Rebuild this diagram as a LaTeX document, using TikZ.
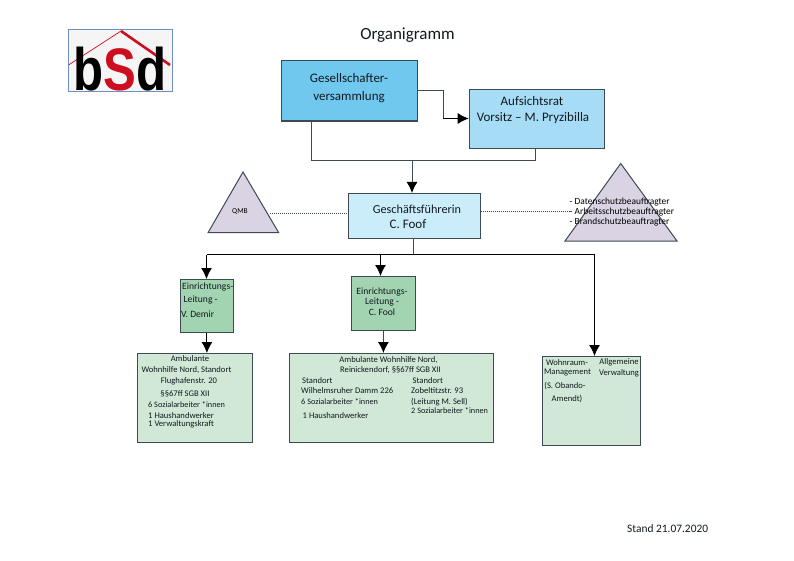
\documentclass[tikz,border=0pt]{standalone}
\usepackage{fontspec}
\setmainfont{Carlito}
\newfontfamily\logofont{Liberation Sans}
\usetikzlibrary{arrows.meta}
\definecolor{cGes}{HTML}{71C8EE}
\definecolor{cAuf}{HTML}{A6DCF5}
\definecolor{cGF}{HTML}{CBECF9}
\definecolor{cLei}{HTML}{A3D4B1}
\definecolor{cAmb}{HTML}{D2E8D6}
\definecolor{cTri}{HTML}{D9D3E3}
\definecolor{cEdge}{HTML}{3C4A52}
\definecolor{cInk}{HTML}{111A20}
\definecolor{cLogoRed}{HTML}{CC0E1E}
\definecolor{cLogoEdge}{HTML}{6F8FBF}
\tikzset{
  boxshape/.style={draw=cEdge,line width=1.1pt,inner sep=0pt,anchor=north west},
  trishape/.style={draw=cEdge,line width=1pt,fill=cTri,line join=miter},
  big/.style={font=\fontsize{13}{13}\selectfont,text=cInk,inner sep=0pt},
  mid/.style={font=\fontsize{9.6}{10}\selectfont,text=cInk,inner sep=0pt},
  small/.style={font=\fontsize{8.6}{9}\selectfont,text=cInk,inner sep=0pt},
  smallleft/.style={small,anchor=west},
  socworker/.style={font=\fontsize{8.25}{9}\selectfont,text=cInk,inner sep=0pt,anchor=west},
  trilabel/.style={font=\fontsize{9.4}{10}\selectfont,text=black,inner sep=0pt,anchor=west},
  blacktip/.style={-{Latex[length=11pt,width=11pt,color=black]}},
  arrowline/.style={draw=black,line width=.9pt,blacktip},
  grayarrow/.style={draw=cEdge,line width=1pt,blacktip},
  plainline/.style={draw=cEdge,line width=1pt},
  dotline/.style={draw=cEdge,line width=1pt,densely dotted},
}
\begin{document}
\begin{tikzpicture}[x=1pt,y=-1pt]
\useasboundingbox (0,0) rectangle (794,561);
\fill[white] (0,0) rectangle (794,561);

% logo
\node[boxshape,draw=cLogoEdge,fill=black!4,minimum width=104.5pt,minimum height=62pt] (logo) at (67.5,29) {};
\draw[cLogoRed,line width=.7pt] (68.5,65) -- (121,31);
\draw[cLogoRed,line width=2.6pt] (121,31) -- (170,65);
\node[inner sep=0pt,xscale=.82,anchor=south] (logotext) at (120,91)
  {\fontsize{60}{60}\logofont\bfseries b\textcolor{cLogoRed}{S}d};

% title and stamp
\node[font=\fontsize{17}{17}\selectfont,text=cInk,inner sep=0pt] (title) at (407.5,35) {Organigramm};
\node[font=\fontsize{11.4}{12}\selectfont,text=cInk,inner sep=0pt,anchor=west] (stand) at (627,528.5) {Stand 21.07.2020};

% upper boxes
\node[boxshape,fill=cGes,minimum width=136pt,minimum height=60.5pt] (ges) at (281,60) {};
\node[boxshape,fill=cAuf,minimum width=135.5pt,minimum height=59.5pt] (auf) at (468.7,88.7) {};
\node[boxshape,fill=cGF,minimum width=131.5pt,minimum height=45pt] (gf) at (348,193) {};

% triangles
\path[trishape] (243,172) coordinate (qa) -- (208,232.7) coordinate (qb) -- (278.7,232.7) coordinate (qc) -- cycle;
\path[trishape] (620.7,163.5) coordinate (da) -- (565,241) coordinate (db) -- (677,241) coordinate (dc) -- cycle;
\coordinate (qend) at (270,214);
\coordinate (dend) at (570,211.7);

% green boxes
\node[boxshape,fill=cLei,minimum width=53.3pt,minimum height=53pt] (e1) at (179.7,279) {};
\node[boxshape,fill=cLei,minimum width=64.3pt,minimum height=54pt] (e2) at (350.7,276) {};
\node[boxshape,fill=cAmb,minimum width=115.3pt,minimum height=89pt] (a1) at (136.7,353) {};
\node[boxshape,fill=cAmb,minimum width=204pt,minimum height=89pt] (a2) at (289,353) {};
\node[boxshape,fill=cAmb,minimum width=98.3pt,minimum height=89pt] (a3) at (541.7,356) {};

% connectors
\coordinate (gbend) at (443,90.5);
\coordinate (gbend2) at (443,118.5);
\draw[plainline] (ges.east |- gbend) -- (gbend) -- (gbend2);
\draw[arrowline] (gbend2) -- (auf.west |- gbend2);
\coordinate (sumleft) at (311,160.5);
\coordinate (sumright) at (535,160.5);
\coordinate (sumdown) at (412,160.5);
\draw[plainline] (ges.south -| sumleft) -- (sumleft) -- (sumright) -- (auf.south -| sumright);
\draw[grayarrow] (sumdown) -- (gf.north -| sumdown);

\draw[dotline] (qend) -- (gf.west |- qend);
\draw[dotline] (gf.east |- dend) -- (dend);

\coordinate (bustop) at (413.7,238);
\coordinate (busmid) at (413.7,254.5);
\coordinate (busl) at (206.5,254.5);
\coordinate (busm) at (380.5,254.5);
\coordinate (busr) at (594.5,254.5);
\draw[plainline] (gf.south -| bustop) -- (busmid);
\draw[draw=black,line width=.9pt] (busl) -- (busr);
\draw[arrowline] (busl) -- (e1.north -| busl);
\draw[arrowline] (busm) -- (e2.north -| busm);
\draw[arrowline] (busr) -- (a3.north -| busr);
\draw[arrowline] (e1.south) -- (e1.south |- a1.north);
\draw[grayarrow] (e2.south) -- (e2.south |- a2.north);

% upper labels
\node[big] (t1) at (349,78) {Gesellschafter-};
\node[big] (t2) at (349,97) {versammlung};
\node[big] (t3) at (532,101.5) {Aufsichtsrat};
\node[big] (t4) at (533,118) {Vorsitz – M. Pryzibilla};
\node[font=\fontsize{12.2}{13}\selectfont,text=cInk,inner sep=0pt] (t5) at (417,209) {Geschäftsführerin};
\node[big] (t6) at (408,224) {C. Foof};

% triangle labels
\node[font=\fontsize{7.5}{8}\selectfont,text=black,inner sep=0pt] (q) at (240,211.5) {QMB};
\node[trilabel] (d1) at (569.5,202) {- Datenschutzbeauftragter};
\node[trilabel] (d2) at (569.5,212) {- Arbeitsschutzbeauftragter};
\node[trilabel] (d3) at (569.5,222) {- Brandschutzbeauftragter};

% Einrichtungsleitung labels
\node[mid,anchor=west] (e1a) at (182,287) {Einrichtungs-};
\node[mid,anchor=west] (e1b) at (183.5,300) {Leitung -};
\node[mid,anchor=west] (e1c) at (181,314.5) {V. Demir};
\node[mid] (e2a) at (382,292) {Einrichtungs-};
\node[mid] (e2b) at (382,302) {Leitung -};
\node[mid] (e2c) at (382,312) {C. Fool};

% box 1
\node[small] (a1a) at (190,359) {Ambulante};
\node[small] (a1b) at (186.5,370) {Wohnhilfe Nord, Standort};
\node[small] (a1c) at (189,381) {Flughafenstr. 20};
\node[small] (a1d) at (185,394) {§§67ff SGB XII};
\node[socworker] (a1e) at (148,405) {6 Sozialarbeiter *innen};
\node[smallleft] (a1f) at (148,415.5) {1 Haushandwerker};
\node[smallleft] (a1g) at (148,424) {1 Verwaltungskraft};

% box 2
\node[small] (a2a) at (388.5,360) {Ambulante Wohnhilfe Nord,};
\node[small] (a2b) at (390.5,370.5) {Reinickendorf, §§67ff SGB XII};
\node[smallleft] (a2c) at (302,380.5) {Standort};
\node[smallleft] (a2d) at (412.5,380.5) {Standort};
\node[smallleft] (a2e) at (301,391) {Wilhelmsruher Damm 226};
\node[smallleft] (a2f) at (411,391) {Zobeltitzstr. 93};
\node[socworker] (a2g) at (301,402) {6 Sozialarbeiter *innen};
\node[smallleft] (a2h) at (411,402.5) {(Leitung M. Sell)};
\node[socworker] (a2i) at (411,411) {2 Sozialarbeiter *innen};
\node[smallleft] (a2j) at (302.5,415.5) {1 Haushandwerker};

% box 3
\node[small] (a3a) at (567,362.7) {Wohnraum-};
\node[small] (a3b) at (567.5,372.5) {Management};
\node[small] (a3c) at (565,386) {(S. Obando-};
\node[small] (a3d) at (567,399) {Amendt)};
\node[small] (a3e) at (619,362) {Allgemeine};
\node[small] (a3f) at (619,373) {Verwaltung};
\end{tikzpicture}
\end{document}
